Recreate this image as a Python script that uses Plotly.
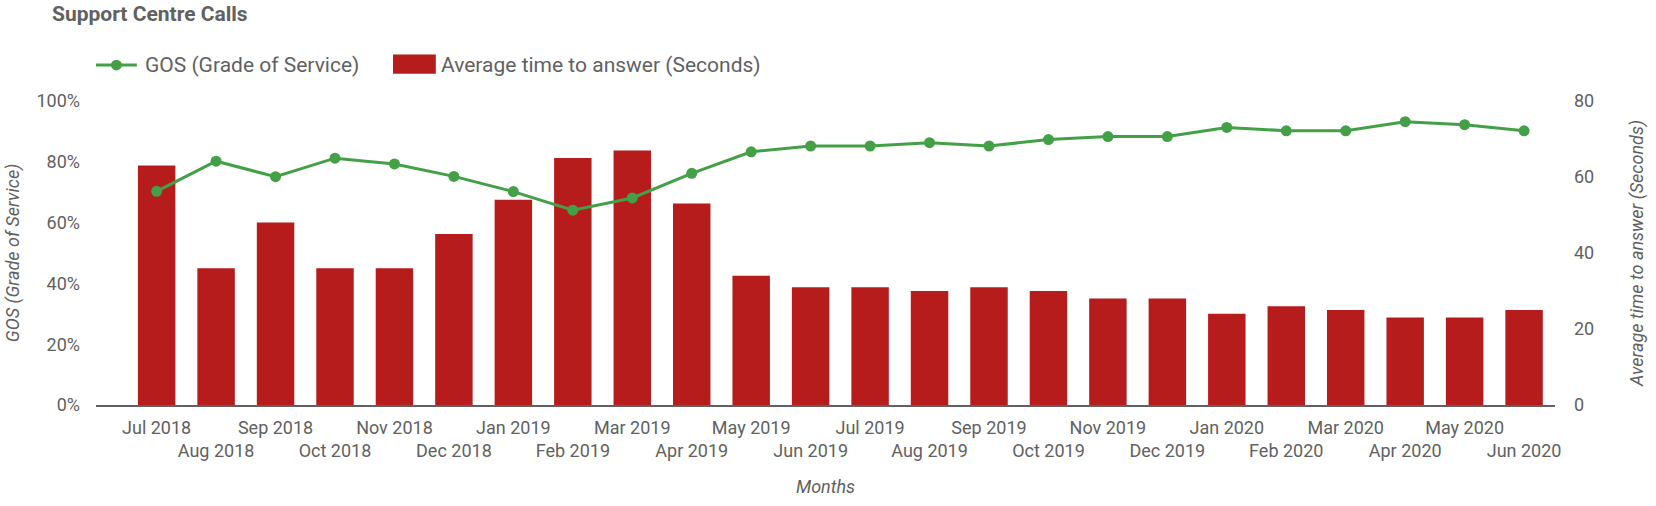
import plotly.graph_objects as go

months = [
    "Jul 2018", "Aug 2018", "Sep 2018", "Oct 2018", "Nov 2018", "Dec 2018",
    "Jan 2019", "Feb 2019", "Mar 2019", "Apr 2019", "May 2019", "Jun 2019",
    "Jul 2019", "Aug 2019", "Sep 2019", "Oct 2019", "Nov 2019", "Dec 2019",
    "Jan 2020", "Feb 2020", "Mar 2020", "Apr 2020", "May 2020", "Jun 2020",
]
gos = [70.3, 80.2, 75.1, 81.2, 79.3, 75.2, 70.2, 64.1, 68.1, 76.2, 83.3, 85.2,
       85.2, 86.3, 85.2, 87.3, 88.3, 88.3, 91.3, 90.2, 90.2, 93.2, 92.2, 90.2]
answer_secs = [63, 36, 48, 36, 36, 45, 54, 65, 67, 53, 34, 31,
               31, 30, 31, 30, 28, 28, 24, 26, 25, 23, 23, 25]
gos_ticks = [0, 20, 40, 60, 80, 100]
secs_ticks = [0, 20, 40, 60, 80]

GREY = "#616161"
GREEN = "#43a047"
RED = "#b71c1c"
FONT = "Roboto"

W, H = 1656, 506
L, R, T, B = 96, 96, 101, 92


def px_x(px):
    # pixel -> paper x
    return (px - L) / (W - L - R)


def px_y(py):
    # pixel -> paper y
    return (H - B - py) / (H - T - B)


# labels alternate between two rows, like the original
tick_text = [m if i % 2 == 0 else "<br>" + m for i, m in enumerate(months)]

fig = go.Figure()

fig.add_trace(go.Scatter(
    x=months, y=gos,
    name="GOS (Grade of Service)",
    mode="lines+markers",
    line=dict(color=GREEN, width=3),
    marker=dict(color=GREEN, size=11),
    yaxis="y2",
))
fig.add_trace(go.Bar(
    x=months, y=answer_secs,
    name="Average time to answer (Seconds)",
    marker=dict(color=RED, line=dict(width=0)),
    width=0.63,
    yaxis="y",
))

# hand-drawn legend so the swatches look like the original
shapes = [
    dict(type="line", xref="paper", yref="paper",
         x0=px_x(96), x1=px_x(137), y0=px_y(64), y1=px_y(64),
         line=dict(color=GREEN, width=3)),
    dict(type="circle", xref="paper", yref="paper",
         x0=px_x(111), x1=px_x(122), y0=px_y(58.5), y1=px_y(69.5),
         fillcolor=GREEN, line=dict(width=0)),
    dict(type="rect", xref="paper", yref="paper",
         x0=px_x(394), x1=px_x(437), y0=px_y(53), y1=px_y(73),
         fillcolor=RED, line=dict(width=0)),
]
annotations = [
    dict(text="GOS (Grade of Service)", xref="paper", yref="paper",
         x=px_x(143), y=px_y(64), xanchor="left", yanchor="middle",
         showarrow=False, font=dict(size=21, color=GREY)),
    dict(text="Average time to answer (Seconds)", xref="paper", yref="paper",
         x=px_x(440), y=px_y(64), xanchor="left", yanchor="middle",
         showarrow=False, font=dict(size=21, color=GREY)),
]

fig.update_layout(
    width=W, height=H,
    margin=dict(l=L, r=R, t=T, b=B),
    paper_bgcolor="white",
    plot_bgcolor="white",
    font=dict(family=FONT, color=GREY, size=18),
    showlegend=False,
    shapes=shapes,
    annotations=annotations,
    title=dict(
        text="<b>Support Centre Calls</b>",
        x=52 / W, xanchor="left",
        y=1 - 14 / H, yanchor="middle",
        font=dict(family=FONT, size=21, color=GREY),
    ),
    xaxis=dict(
        type="category",
        range=[-1.02, 23.52],
        tickmode="array",
        tickvals=months,
        ticktext=tick_text,
        tickangle=0,
        showgrid=False,
        showline=True,
        linecolor=GREY,
        linewidth=2,
        ticks="",
        ticklabelstandoff=5,
        zeroline=False,
        title=dict(text="<i>Months</i>", font=dict(size=18, color=GREY), standoff=20),
    ),
    yaxis=dict(
        side="right",
        range=[0, 80],
        tickmode="array",
        tickvals=secs_ticks,
        ticktext=[str(v) for v in secs_ticks],
        showgrid=False,
        zeroline=False,
        ticklabelstandoff=18,
        title=dict(text="<i>Average time to answer (Seconds)</i>",
                   font=dict(size=18, color=GREY), standoff=37),
    ),
    yaxis2=dict(
        side="left",
        overlaying="y",
        range=[0, 100],
        tickmode="array",
        tickvals=gos_ticks,
        ticktext=[f"{v}%" for v in gos_ticks],
        showgrid=False,
        zeroline=False,
        ticklabelstandoff=15,
        title=dict(text="<i>GOS (Grade of Service)</i>",
                   font=dict(size=18, color=GREY), standoff=12),
    ),
)

# drop the browser's default 8px body margin so the chart sits at the page corner
fig.write_html(
    "out.html",
    config={"displayModeBar": False},
    post_script="document.body.style.margin = '0';",
)
